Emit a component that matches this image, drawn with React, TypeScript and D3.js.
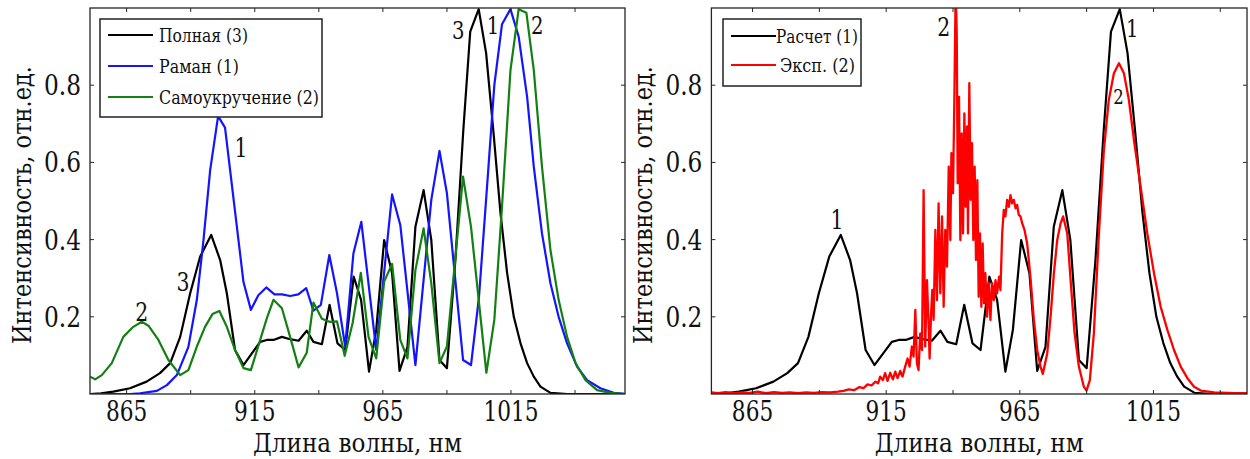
import React from "react";
import * as d3 from "d3";

type Pt = [number, number];

// Полная (3) / Расчет (1) — black
const fullSeries: Pt[] = [
  [850.7, 0], [855, 0.002], [859.8, 0.006], [866.3, 0.015], [872.8, 0.032], [878, 0.054],
  [882, 0.08], [885.9, 0.148], [889.8, 0.261], [893.7, 0.356], [898, 0.412], [901.5, 0.347],
  [904.1, 0.261], [907.3, 0.114], [910.6, 0.075], [917.1, 0.135], [919.7, 0.14], [922.3, 0.14],
  [925.6, 0.148], [928.8, 0.142], [932.1, 0.138], [935.3, 0.164], [937.9, 0.135], [941.2, 0.129],
  [944.2, 0.231], [947.3, 0.131], [950.3, 0.114], [953.6, 0.304], [956.5, 0.244], [959.6, 0.058],
  [962.4, 0.166], [965.5, 0.399], [968.6, 0.313], [971.5, 0.06], [974.6, 0.122], [977.7, 0.433],
  [980.9, 0.528], [983.9, 0.399], [987.1, 0.088], [990, 0.067], [993.3, 0.347], [996.4, 0.684],
  [999.1, 0.939], [1002.4, 0.997], [1005.3, 0.883], [1008.2, 0.676], [1010.9, 0.469], [1013.5, 0.313],
  [1016.1, 0.2], [1018.7, 0.132], [1021.3, 0.08], [1023.9, 0.045], [1026.5, 0.019], [1030.4, 0.003],
  [1037, 0], [1060, 0],
];

// Раман (1) — blue
const ramanSeries: Pt[] = [
  [850.7, 0], [866.3, 0], [870.2, 0.002], [876.8, 0.008], [880.7, 0.023], [884.6, 0.049],
  [889.1, 0.122], [892.4, 0.244], [895.0, 0.399], [897.6, 0.58], [900.7, 0.72], [903.4, 0.69],
  [910.6, 0.29], [913.5, 0.218], [916.4, 0.256], [919.5, 0.276], [922.7, 0.258], [925.7, 0.258],
  [928.8, 0.254], [932, 0.258], [935.1, 0.274], [937.9, 0.216], [940.8, 0.231], [944.1, 0.36],
  [947.1, 0.261], [950.3, 0.123], [953.5, 0.364], [956.6, 0.446], [962.4, 0.114], [968.6, 0.517],
  [971.8, 0.438], [977.7, 0.075], [983.9, 0.503], [987.1, 0.63], [990, 0.52], [996.3, 0.088],
  [999.4, 0.075], [1002.5, 0.25], [1005.8, 0.55], [1008.5, 0.8], [1011.5, 0.958], [1014.8, 0.997],
  [1018, 0.926], [1021.3, 0.77], [1023.9, 0.589], [1027.1, 0.416], [1030.4, 0.287], [1033.6, 0.2],
  [1036.9, 0.131], [1040.8, 0.071], [1044.7, 0.036], [1049.9, 0.015], [1055.1, 0.003], [1059.6, 0],
];

// Самоукручение (2) — green
const spmSeries: Pt[] = [
  [850.7, 0.045], [852.7, 0.038], [855.3, 0.049], [859.2, 0.08], [863.7, 0.148], [867.6, 0.174],
  [870.9, 0.187], [873.5, 0.177], [877.4, 0.14], [881.3, 0.088], [885.9, 0.049], [889.1, 0.062],
  [892.4, 0.123], [895.6, 0.174], [898.5, 0.207], [901.2, 0.215], [904.1, 0.174], [907.3, 0.114],
  [910.6, 0.067], [913.5, 0.062], [919.7, 0.196], [922.3, 0.244], [925.6, 0.222], [928.8, 0.148],
  [932.1, 0.069], [935.3, 0.107], [937.9, 0.237], [941.2, 0.195], [944.2, 0.187], [947.1, 0.188],
  [950.1, 0.099], [953.2, 0.184], [956.4, 0.314], [959.4, 0.148], [962.4, 0.092], [965.5, 0.291],
  [968.6, 0.337], [971.8, 0.14], [974.6, 0.092], [977.7, 0.321], [980.9, 0.429], [983.9, 0.287],
  [987.1, 0.08], [990, 0.123], [996.3, 0.563], [999.4, 0.433], [1005.4, 0.055], [1008.5, 0.192],
  [1011.5, 0.485], [1014.8, 0.839], [1018, 0.997], [1021, 0.988], [1023.9, 0.839], [1027.1, 0.589],
  [1030.4, 0.373], [1033.6, 0.244], [1036.9, 0.148], [1040.2, 0.08], [1044.1, 0.036], [1048.6, 0.01],
  [1053.8, 0.003], [1059.6, 0],
];

// Эксп. (2) — red
const expSeries: Pt[] = [
  [849.6, 0.004], [852, 0.002], [855, 0.005], [858, 0.002], [861, 0.004], [864, 0.003],
  [867, 0.006], [870, 0.002], [873, 0.005], [876, 0.003], [879, 0.004], [882, 0.002],
  [885, 0.004], [888, 0.003], [891, 0.005], [894, 0.004], [897, 0.006], [899, 0.008],
  [901, 0.012], [903, 0.01], [905, 0.018], [906.5, 0.015], [908, 0.025], [909.5, 0.022],
  [911, 0.032], [912, 0.028], [912.75, 0.045], [913.75, 0.036], [914.6, 0.054], [915.5, 0.034],
  [916.5, 0.055], [917.5, 0.038], [918.4, 0.058], [919.25, 0.041], [920.25, 0.06], [921.1, 0.045],
  [922.1, 0.071], [923, 0.092], [923.75, 0.071], [924.6, 0.123], [925.25, 0.097], [925.9, 0.218],
  [926.5, 0.079], [927.1, 0.062], [927.75, 0.157], [928.4, 0.114], [929, 0.528], [929.6, 0.123],
  [930.25, 0.295], [930.9, 0.174], [931.25, 0.092], [931.75, 0.2], [932.25, 0.27], [932.75, 0.192],
  [933.4, 0.425], [934, 0.243], [934.6, 0.494], [935.25, 0.261], [935.9, 0.46], [936.5, 0.226],
  [937.1, 0.425], [937.75, 0.33], [938.4, 0.589], [939, 0.399], [939.4, 0.624], [940, 0.52],
  [940.5, 0.762], [941, 1.05], [941.4, 0.934], [941.75, 0.546], [942.25, 0.77], [942.75, 0.399],
  [943.25, 0.675], [943.75, 0.416], [944.25, 0.727], [944.75, 0.485], [945.25, 0.693], [945.6, 0.416],
  [946.1, 0.805], [946.6, 0.503], [947.1, 0.65], [947.6, 0.399], [948.1, 0.589], [948.6, 0.347],
  [949.1, 0.554], [949.6, 0.252], [950.1, 0.416], [950.6, 0.226], [951.1, 0.39], [951.6, 0.235],
  [952.1, 0.313], [952.75, 0.2], [953.4, 0.287], [954, 0.192], [954.6, 0.287], [955.25, 0.243],
  [955.9, 0.295], [956.5, 0.261], [957.25, 0.304], [957.75, 0.269], [958.4, 0.416], [959, 0.477],
  [959.6, 0.46], [960.25, 0.503], [960.9, 0.485], [961.5, 0.515], [962.1, 0.494], [962.75, 0.503],
  [963.4, 0.481], [964, 0.49], [964.6, 0.464], [965.25, 0.46], [965.9, 0.442], [966.75, 0.425],
  [967.75, 0.39], [969, 0.3], [970.25, 0.192], [971.5, 0.114], [972.75, 0.071], [973.6, 0.052],
  [975.25, 0.105], [976.5, 0.2], [977.75, 0.313], [979, 0.399], [980.25, 0.442], [981.2, 0.46],
  [982.75, 0.416], [983.95, 0.3], [985.45, 0.16], [987.1, 0.071], [988.95, 0.019], [989.95, 0.009],
  [991.2, 0.036], [992.7, 0.157], [994.6, 0.416], [996.45, 0.632], [998.3, 0.762], [1000.2, 0.831],
  [1002.1, 0.857], [1003.95, 0.831], [1005.8, 0.762], [1007.7, 0.658], [1010.2, 0.537], [1012.7, 0.416],
  [1015.2, 0.313], [1017.7, 0.226], [1020.2, 0.166], [1022.7, 0.114], [1025.2, 0.071], [1027.7, 0.041],
  [1030.2, 0.019], [1032.7, 0.009], [1037.7, 0.004], [1045.2, 0.002], [1051.4, 0.002],
];

const xTicks = [865, 890, 915, 940, 965, 990, 1015, 1040];
const xTickLabels = [865, 915, 965, 1015];
const yTicks = [0.2, 0.4, 0.6, 0.8];

const leftNames = ["Полная (3)", "Раман (1)", "Самоукручение (2)"];
const rightNames = ["Расчет (1)", "Эксп. (2)"];

type Note = { t: string; x: number; y: number; s: number };
const leftNotes: Note[] = [
  { t: "1", x: 909.6, y: 0.637, s: 26 },
  { t: "3", x: 887.0, y: 0.29, s: 26 },
  { t: "2", x: 870.9, y: 0.213, s: 26 },
  { t: "3", x: 994.4, y: 0.943, s: 25 },
  { t: "1", x: 1008, y: 0.956, s: 25 },
  { t: "2", x: 1025.3, y: 0.956, s: 25 },
];
const rightNotes: Note[] = [
  { t: "1", x: 896.6, y: 0.451, s: 26 },
  { t: "2", x: 936.5, y: 0.952, s: 26 },
  { t: "1", x: 1007.1, y: 0.948, s: 25 },
  { t: "2", x: 1001.9, y: 0.77, s: 21 },
];

const FONT = '"DejaVu Serif", serif';
const TOP = 8;
const BOTTOM = 394;

function T(props: {
  x?: number;
  y?: number;
  size: number;
  len?: number;
  anchor?: string;
  transform?: string;
  children: React.ReactNode;
}) {
  const extra: any = {};
  if (props.len) {
    extra.textLength = props.len;
    extra.lengthAdjust = "spacingAndGlyphs";
  }
  return (
    <text
      x={props.x}
      y={props.y}
      transform={props.transform}
      textAnchor={props.anchor || "start"}
      style={{ fontFamily: FONT, fontSize: props.size + "px" }}
      fill="#111"
      {...extra}
    >
      {props.children}
    </text>
  );
}

interface PanelProps {
  id: string;
  left: number;
  right: number;
  domain: [number, number];
  series: { data: Pt[]; color: string; width: number }[];
  legend: {
    names: string[];
    widths: number[];
    colors: string[];
    box: [number, number, number, number];
    rows: number[];
    lineX: [number, number];
    textX: number[];
  };
  notes: Note[];
  yLabelX: number;
}

function Panel(p: PanelProps) {
  const x = d3.scaleLinear().domain(p.domain).range([p.left, p.right]);
  const y = d3.scaleLinear().domain([0, 1]).range([BOTTOM, TOP]);
  const line = d3
    .line<Pt>()
    .x((d) => x(d[0]))
    .y((d) => y(d[1]));
  const axisColor = "#262626";
  const tl = 4;
  const midX = (p.left + p.right) / 2;
  return (
    <g>
      <defs>
        <clipPath id={p.id}>
          <rect x={p.left} y={TOP} width={p.right - p.left} height={BOTTOM - TOP} />
        </clipPath>
      </defs>
      <rect x={p.left} y={TOP} width={p.right - p.left} height={BOTTOM - TOP} fill="#fff" />
      <g clipPath={`url(#${p.id})`}>
        {p.series.map((s, i) => (
          <path key={i} d={line(s.data) || ""} fill="none" stroke={s.color} strokeWidth={s.width} strokeLinejoin="round" />
        ))}
      </g>
      {xTicks.map((t) => (
        <g key={"xt" + t}>
          <line x1={x(t)} x2={x(t)} y1={BOTTOM} y2={BOTTOM - tl} stroke={axisColor} strokeWidth={1} />
          <line x1={x(t)} x2={x(t)} y1={TOP} y2={TOP + tl} stroke={axisColor} strokeWidth={1} />
        </g>
      ))}
      {yTicks.map((t) => (
        <g key={"yt" + t}>
          <line x1={p.left} x2={p.left + tl} y1={y(t)} y2={y(t)} stroke={axisColor} strokeWidth={1} />
          <line x1={p.right} x2={p.right - tl} y1={y(t)} y2={y(t)} stroke={axisColor} strokeWidth={1} />
        </g>
      ))}
      <rect x={p.left} y={TOP} width={p.right - p.left} height={BOTTOM - TOP} fill="none" stroke={axisColor} strokeWidth={1.3} />
      {xTickLabels.map((t) => (
        <T key={"xl" + t} x={x(t)} y={421} size={27} anchor="middle" len={String(t).length * 13.8}>
          {t}
        </T>
      ))}
      {yTicks.map((t) => (
        <T key={"yl" + t} x={p.left - 9} y={y(t) + 10} size={28} anchor="end" len={37}>
          {d3.format(".1f")(t)}
        </T>
      ))}
      <T x={midX} y={452} size={26} anchor="middle" len={209}>
        Длина волны, нм
      </T>
      <T transform={`translate(${p.yLabelX},205) rotate(-90)`} size={26} anchor="middle" len={278}>
        Интенсивность, отн.ед.
      </T>
      {p.notes.map((n, i) => (
        <T key={"n" + i} x={x(n.x)} y={y(n.y) + n.s * 0.36} size={n.s} anchor="middle" len={n.s * 0.5}>
          {n.t}
        </T>
      ))}
      <rect
        x={p.legend.box[0]}
        y={p.legend.box[1]}
        width={p.legend.box[2]}
        height={p.legend.box[3]}
        fill="#fff"
        stroke="#222"
        strokeWidth={1.5}
      />
      {p.legend.names.map((nm, i) => (
        <g key={"lg" + i}>
          <line
            x1={p.legend.lineX[0]}
            x2={p.legend.lineX[1]}
            y1={p.legend.rows[i]}
            y2={p.legend.rows[i]}
            stroke={p.legend.colors[i]}
            strokeWidth={2.2}
          />
          <T x={p.legend.textX[i]} y={p.legend.rows[i] + 6.5} size={18} len={p.legend.widths[i]}>
            {nm}
          </T>
        </g>
      ))}
    </g>
  );
}

export default function App() {
  return (
    <svg
      width={1250}
      height={459}
      viewBox="0 0 1250 459"
      style={{ position: "absolute", left: 0, top: 0, background: "#fff" }}
    >
      <rect x={0} y={0} width={1250} height={459} fill="#fff" />
      <Panel
        id="clipL"
        left={90}
        right={625}
        domain={[850.7, 1059.5]}
        series={[
          { data: fullSeries, color: "#000000", width: 2.2 },
          { data: ramanSeries, color: "#1414ff", width: 2.2 },
          { data: spmSeries, color: "#128012", width: 2.2 },
        ]}
        legend={{
          names: leftNames,
          widths: [89, 80, 160],
          colors: ["#000000", "#1414ff", "#128012"],
          box: [100, 19, 222, 98],
          rows: [35, 66, 97],
          lineX: [108, 153],
          textX: [159, 159, 159],
        }}
        notes={leftNotes}
        yLabelX={31}
      />
      <Panel
        id="clipR"
        left={711.4}
        right={1247}
        domain={[849.6, 1050]}
        series={[
          { data: fullSeries, color: "#000000", width: 2.2 },
          { data: expSeries, color: "#ff0000", width: 2.3 },
        ]}
        legend={{
          names: rightNames,
          widths: [82, 75],
          colors: ["#000000", "#ff0000"],
          box: [723, 19, 138, 67],
          rows: [36, 65],
          lineX: [731, 776],
          textX: [776, 780],
        }}
        notes={rightNotes}
        yLabelX={652}
      />
    </svg>
  );
}
